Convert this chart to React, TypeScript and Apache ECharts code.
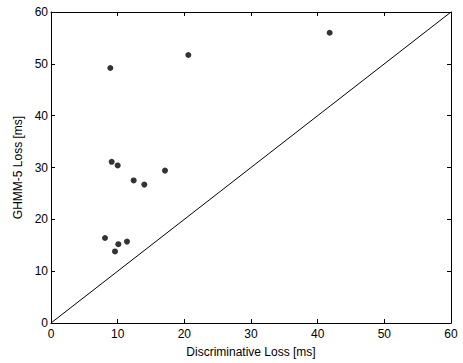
import React, { useEffect, useRef } from "react";
import * as echarts from "echarts";

const discLoss = [8.9, 20.6, 41.8, 9.1, 10.0, 12.4, 14.0, 17.1, 8.1, 10.1, 11.4, 9.6];
const ghmmLoss = [49.2, 51.7, 56.0, 31.1, 30.4, 27.5, 26.7, 29.4, 16.4, 15.2, 15.7, 13.8];
const diagX = [0, 60];
const diagY = [0, 60];

const FONT = "Liberation Sans, Arial, Helvetica, sans-serif";

export default function App() {
  const ref = useRef<HTMLDivElement>(null);
  useEffect(() => {
    if (!ref.current) return;
    const chart = echarts.init(ref.current, null, { renderer: "svg" });
    const base = {
      type: "value",
      min: 0,
      max: 60,
      interval: 10,
      splitLine: { show: false },
      axisLine: { show: true, onZero: false, lineStyle: { color: "#000", width: 1 } },
      axisTick: { show: true, inside: true, length: 4, lineStyle: { color: "#000", width: 1 } },
    };
    chart.setOption({
      animation: false,
      backgroundColor: "#fff",
      grid: { left: 51, right: 12, top: 12, bottom: 37, containLabel: false },
      xAxis: [
        {
          ...base,
          position: "bottom",
          name: "Discriminative Loss [ms]",
          nameLocation: "middle",
          nameGap: 23,
          nameTextStyle: { color: "#000", fontSize: 12, fontFamily: FONT },
          axisLabel: { color: "#000", fontSize: 12, fontFamily: FONT, margin: 5 },
        },
        { ...base, position: "top", axisLabel: { show: false } },
      ],
      yAxis: [
        {
          ...base,
          position: "left",
          name: "GHMM-5 Loss [ms]",
          nameLocation: "middle",
          nameGap: 25,
          nameTextStyle: { color: "#000", fontSize: 12, fontFamily: FONT },
          axisLabel: { color: "#000", fontSize: 12, fontFamily: FONT, margin: 3 },
        },
        { ...base, position: "right", axisLabel: { show: false } },
      ],
      series: [
        {
          type: "line",
          xAxisIndex: 0,
          yAxisIndex: 0,
          data: diagX.map((x, i) => [x, diagY[i]]),
          symbol: "none",
          lineStyle: { color: "#000", width: 1 },
        },
        {
          type: "scatter",
          xAxisIndex: 0,
          yAxisIndex: 0,
          data: discLoss.map((x, i) => [x, ghmmLoss[i]]),
          symbol: "circle",
          symbolSize: 6,
          itemStyle: { color: "#000" },
        },
      ],
    });
    return () => chart.dispose();
  }, []);
  return (
    <div
      ref={ref}
      style={{ position: "absolute", left: 0, top: 0, width: 463, height: 363 }}
    />
  );
}
